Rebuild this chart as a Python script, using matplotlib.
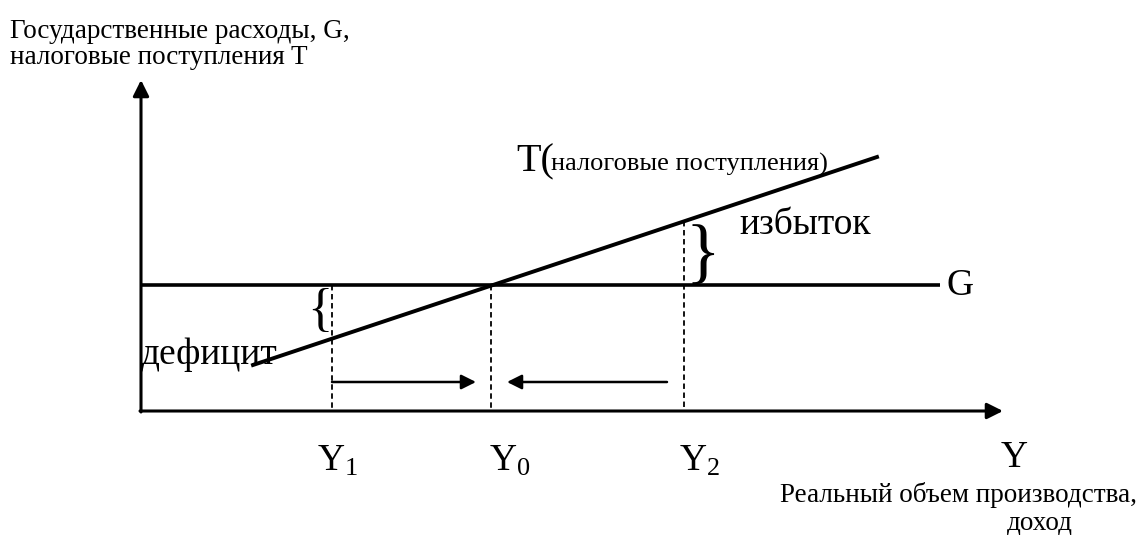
import matplotlib.pyplot as plt

plt.rcParams['font.family'] = ['Liberation Serif', 'DejaVu Serif']
plt.rcParams['mathtext.fontset'] = 'custom'
plt.rcParams['mathtext.rm'] = 'Liberation Serif'
plt.rcParams['mathtext.it'] = 'Liberation Serif:italic'

# diagram geometry (pixel units of the 1141x535 canvas, y grows downward)
origin = (141, 411)
x_axis_end = 1003
y_axis_end = 80
g_level = 285
g_end = 940
t_start = (253, 365)
t_end = (877, 157)
y_marks = ['Y$_{\\mathrm{1}}$', 'Y$_{\\mathrm{0}}$', 'Y$_{\\mathrm{2}}$']
y_positions = [332, 491, 684]
label_x = [338, 510, 700]


def t_value(x):
    k = (t_end[1] - t_start[1]) / (t_end[0] - t_start[0])
    return t_start[1] + k * (x - t_start[0])


fig = plt.figure(figsize=(11.41, 5.35), dpi=100)
ax = fig.add_axes([0, 0, 1, 1])
ax.set_xlim(0, 1141)
ax.set_ylim(535, 0)
ax.axis('off')

arrow = dict(arrowstyle='-|>', color='black', lw=2.2, mutation_scale=24,
             shrinkA=0, shrinkB=0)
# axes
ax.annotate('', xy=(x_axis_end, origin[1]), xytext=(origin[0] - 1, origin[1]), arrowprops=arrow)
ax.annotate('', xy=(origin[0], y_axis_end), xytext=(origin[0], origin[1] + 1), arrowprops=arrow)

# G and T lines
ax.plot([origin[0], g_end], [g_level, g_level], color='black', lw=2.6, solid_capstyle='butt')
ax.plot([t_start[0], t_end[0]], [t_start[1], t_end[1]], color='black', lw=2.8)

# dashed guides
for x in y_positions:
    top = min(g_level, t_value(x))
    ax.plot([x, x], [top, origin[1]], color='black', lw=1.3, ls=(0, (3, 2)))

# adjustment arrows
arrow2 = dict(arrowstyle='-|>', color='black', lw=1.8, mutation_scale=22,
              shrinkA=0, shrinkB=0)
ax.annotate('', xy=(476, 382), xytext=(332, 382), arrowprops=arrow2)
ax.annotate('', xy=(507, 382), xytext=(667, 382), arrowprops=arrow2)

# braces
ax.text(333, 312, '{', fontsize=38, ha='right', va='center')
ax.text(685, 256, '}', fontsize=52, ha='left', va='center')

# labels
ax.text(10, 31, 'Государственные расходы, G,', fontsize=19.5, va='center')
ax.text(10, 57, 'налоговые поступления T', fontsize=19.5, va='center')
ax.text(516, 162, 'T(', fontsize=29, va='center')
ax.text(551, 164, 'налоговые поступления)', fontsize=19, va='center')
ax.text(739, 225, 'избыток', fontsize=27, va='center')
ax.text(141, 355, 'дефицит', fontsize=27, va='center')
ax.text(946, 286, 'G', fontsize=27, va='center')
for lab, x in zip(y_marks, label_x):
    ax.text(x, 461, lab, fontsize=27, ha='center', va='center')
ax.text(1014, 458, 'Y', fontsize=27, ha='center', va='center')
ax.text(1137, 495, 'Реальный объем производства,', fontsize=19.5, ha='right', va='center')
ax.text(1040, 523, 'доход', fontsize=19.5, ha='center', va='center')

fig.savefig('out.png', dpi=100)
